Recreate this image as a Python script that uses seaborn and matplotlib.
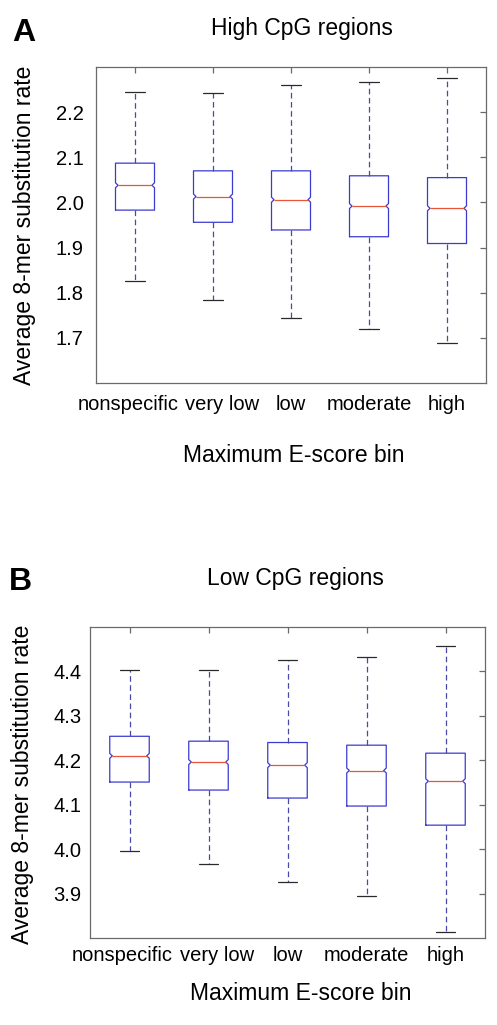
import numpy as np
import pandas as pd
import matplotlib
matplotlib.use("Agg")
import matplotlib.pyplot as plt
import matplotlib.transforms as mtransforms
import seaborn as sns

# ---------------- data ----------------
bins = ["nonspecific", "very low", "low", "moderate", "high"]

# Panel A: High CpG regions
hi_whislo = [1.825, 1.784, 1.744, 1.720, 1.688]
hi_q1 = [1.983, 1.956, 1.939, 1.924, 1.909]
hi_med = [2.038, 2.013, 2.006, 1.992, 1.987]
hi_q3 = [2.087, 2.070, 2.070, 2.059, 2.055]
hi_whishi = [2.245, 2.242, 2.261, 2.266, 2.275]
hi_yticks = [1.7, 1.8, 1.9, 2.0, 2.1, 2.2]

# Panel B: Low CpG regions
lo_whislo = [3.995, 3.967, 3.926, 3.895, 3.813]
lo_q1 = [4.151, 4.133, 4.115, 4.097, 4.054]
lo_med = [4.210, 4.196, 4.189, 4.177, 4.153]
lo_q3 = [4.254, 4.243, 4.240, 4.234, 4.216]
lo_whishi = [4.404, 4.404, 4.426, 4.433, 4.458]
lo_yticks = [3.9, 4.0, 4.1, 4.2, 4.3, 4.4]

# ---------------- style ----------------
sns.set_theme(style="white")
plt.rcParams["font.family"] = ["Liberation Sans", "DejaVu Sans"]
plt.rcParams["text.color"] = "black"
plt.rcParams["axes.labelcolor"] = "black"

BOX = "#3b3bd0"
WHISK = "#4a4aa6"
CAP = "#2a2a2a"
MED = "#e8553a"
FRAME = "#6a6a6a"
LW = 0.9
NOTCH_DEPTH = 0.065
NOTCH_HALF = 0.0055
TICK_FS = 14.5
LABEL_FS = 16.5
XLABEL_SHIFT_PX = [-7, 9, 0, 0, 0]


def draw_panel(fig, ax, whislo, q1, med, q3, whishi, ylim, yticks, pad):
    df = pd.DataFrame({
        "bin": np.repeat(bins, 5),
        "rate": np.column_stack([whislo, q1, med, q3, whishi]).ravel(),
    })
    sns.boxplot(
        data=df, x="bin", y="rate", order=bins, ax=ax,
        width=0.5, whis=(0, 100), fill=False, showfliers=False,
        linewidth=LW, linecolor=BOX, color=BOX,
        boxprops=dict(color=BOX, linewidth=LW, gid="box"),
        whiskerprops=dict(color=WHISK, linewidth=LW, linestyle=(0, (4.5, 2.8))),
        capprops=dict(color=CAP, linewidth=LW),
        medianprops=dict(color=MED, linewidth=LW, gid="median"),
        capwidths=0.25,
    )
    # add shallow notches at the median
    boxes = sorted([l for l in ax.lines if l.get_gid() == "box"],
                   key=lambda l: np.mean(l.get_xdata()))
    meds = sorted([l for l in ax.lines if l.get_gid() == "median"],
                  key=lambda l: np.mean(l.get_xdata()))
    for i, (b, m) in enumerate(zip(boxes, meds)):
        xs = np.asarray(b.get_xdata(), dtype=float)
        L, R = xs.min(), xs.max()
        d = NOTCH_DEPTH * (R - L)
        lo, hi, md = q1[i], q3[i], med[i]
        c = NOTCH_HALF
        b.set_data([L, R, R, R - d, R, R, L, L, L + d, L, L],
                   [lo, lo, md - c, md, md + c, hi, hi, md + c, md, md - c, lo])
        m.set_xdata([L + d, R - d])

    ax.set_ylim(*ylim)
    ax.set_yticks(yticks)
    ax.set_yticklabels([f"{v:.1f}" for v in yticks])
    ax.set_xticks(range(len(bins)))
    ax.set_xticklabels(bins)
    for s in ax.spines.values():
        s.set_visible(True)
        s.set_color(FRAME)
        s.set_linewidth(LW)
    ax.tick_params(axis="both", direction="in", length=4, width=LW,
                   color=FRAME, top=True, right=True, labelsize=TICK_FS,
                   labelcolor="black", pad=pad)
    for lab, dx in zip(ax.get_xticklabels(), XLABEL_SHIFT_PX):
        lab.set_transform(lab.get_transform() +
                          mtransforms.ScaledTranslation(dx / 100, 0, fig.dpi_scale_trans))
    ax.set_xlabel("")
    ax.set_ylabel("")


fig = plt.figure(figsize=(4.97, 10.25), dpi=100)
W, H = 497.0, 1025.0

axA = fig.add_axes([96 / W, 1 - 383 / H, 390 / W, 316 / H])
draw_panel(fig, axA, hi_whislo, hi_q1, hi_med, hi_q3, hi_whishi, (1.6, 2.3), hi_yticks, 9)
axA.set_xlabel("Maximum E-score bin", fontsize=LABEL_FS, va="center", color="black")
axA.xaxis.set_label_coords((294 - 96) / 390, (383 - 455) / 316)
axA.set_ylabel("Average 8-mer substitution rate", fontsize=LABEL_FS, va="center", color="black")
axA.yaxis.set_label_coords((25 - 96) / 390, 0.5)

axB = fig.add_axes([90 / W, 1 - 938 / H, 395 / W, 311 / H])
draw_panel(fig, axB, lo_whislo, lo_q1, lo_med, lo_q3, lo_whishi, (3.8, 4.5), lo_yticks, 6)
axB.set_xlabel("Maximum E-score bin", fontsize=LABEL_FS, va="center", color="black")
axB.xaxis.set_label_coords((301 - 90) / 395, (938 - 993) / 311)
axB.set_ylabel("Average 8-mer substitution rate", fontsize=LABEL_FS, va="center", color="black")
axB.yaxis.set_label_coords((23 - 90) / 395, 0.495)

# titles and panel letters
fig.text(302 / W, 1 - 35 / H, "High CpG regions", ha="center", va="baseline",
         fontsize=LABEL_FS, color="black")
fig.text(295 / W, 1 - 585 / H, "Low CpG regions", ha="center", va="baseline",
         fontsize=LABEL_FS, color="black")
fig.text(12 / W, 1 - 41 / H, "A", ha="left", va="baseline", fontsize=23,
         fontweight="bold", color="black")
fig.text(9 / W, 1 - 590 / H, "B", ha="left", va="baseline", fontsize=23,
         fontweight="bold", color="black")

fig.savefig("out.png", dpi=100, facecolor="white")
